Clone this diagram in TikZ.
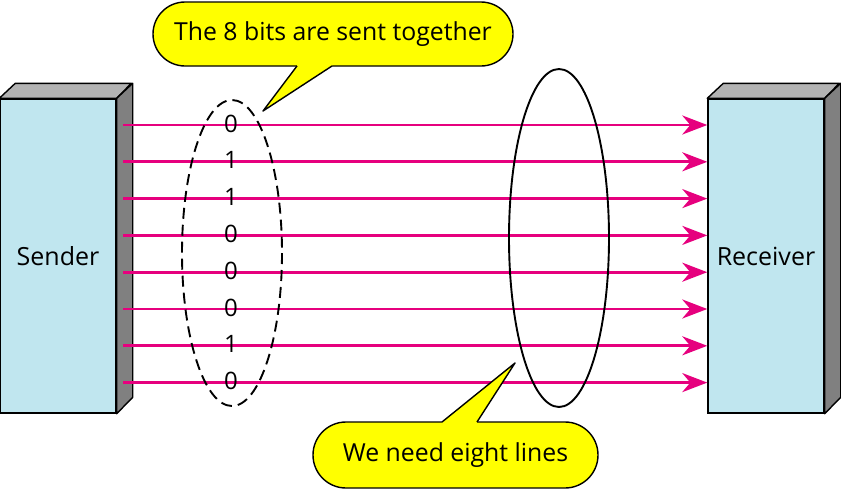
\documentclass[tikz,border=0pt]{standalone}
\usepackage{fontspec}
\setmainfont{Open Sans}
\usetikzlibrary{arrows.meta}
\definecolor{linepink}{RGB}{230,0,126}
\definecolor{boxblue}{RGB}{192,230,239}
\definecolor{topgray}{RGB}{179,179,179}
\definecolor{sidegray}{RGB}{128,128,128}
\definecolor{calloutyellow}{RGB}{255,255,0}
\tikzset{
  devbox/.style={draw=black, line width=1.4pt, fill=boxblue, minimum width=116pt, minimum height=314pt, inner sep=0pt, font=\fontsize{25}{29}\selectfont},
  topface/.style={draw=black, line width=1.4pt, fill=topgray, line join=round},
  sideface/.style={draw=black, line width=1.4pt, fill=sidegray, line join=round},
  wire/.style={draw=linepink, line width=2.8pt, -{Stealth[length=25pt, width=19pt, inset=8pt]}},
  bit/.style={font=\fontsize{24}{28}\selectfont, inner sep=0pt},
  bubble/.style={draw=black, line width=1.4pt, fill=calloutyellow, rounded corners=32pt, minimum height=64pt, inner sep=0pt, font=\fontsize{24.8}{29}\selectfont},
  tailfill/.style={fill=calloutyellow},
  tailedge/.style={draw=black, line width=1.4pt, line join=round},
}
\begin{document}
\begin{tikzpicture}[x=1pt,y=-1pt]
\useasboundingbox (0,0) rectangle (841,490);
% boxes
\node[devbox] (sender) at (58,256) {Sender};
\node[devbox] (receiver) at (766,256) {Receiver};
\foreach \b in {sender,receiver}{
  \draw[topface] (\b.north west) -- ++(16,-15) -- ++(116,0) -- (\b.north east) -- cycle;
  \draw[sideface] (\b.north east) -- ++(16,-15) -- ++(0,314) -- (\b.south east) -- cycle;
}
% wires
\foreach \i/\y in {1/125,2/161.8,3/198.6,4/235.4,5/272.2,6/309,7/345.8,8/382.6}{
  \coordinate (s\i) at (123,\y);
  \draw[wire] (s\i) -- (s\i -| receiver.west);
}
% ellipses
\draw[black, line width=1.9pt, dash pattern=on 11pt off 6pt] (232,253) ellipse [x radius=50, y radius=153];
\draw[black, line width=1.9pt] (559,238) ellipse [x radius=50, y radius=169];
% bits
\foreach \i/\v in {1/0,2/1,3/1,4/0,5/0,6/0,7/1,8/0}{
  \node[bit] (b\i) at ([yshift=1.5pt]s\i -| 231,0) {\v};
}
% top callout
\node[bubble, minimum width=360pt] (c1) at (333,34) {The 8 bits are sent together};
\coordinate (t1) at (263,111);
\fill[tailfill] (297,66) -- (t1) -- (332,66) -- (332,63) -- (297,63) -- cycle;
\draw[tailedge] (297,66) -- (t1) -- (332,66);
% bottom callout
\node[bubble, minimum width=285pt, minimum height=66pt, rounded corners=33pt] (c2) at (455.5,455) {We need eight lines};
\coordinate (t2) at (515,363);
\fill[tailfill] (442,422) -- (t2) -- (477,422) -- (477,425) -- (442,425) -- cycle;
\draw[tailedge] (442,422) -- (t2) -- (477,422);
\end{tikzpicture}
\end{document}
